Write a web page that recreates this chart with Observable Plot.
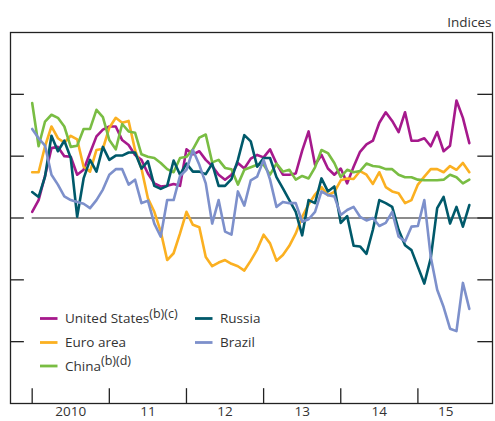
<!DOCTYPE html>
<html><head><meta charset="utf-8">
<script src="https://cdn.jsdelivr.net/npm/d3@7"></script>
<script src="https://cdn.jsdelivr.net/npm/@observablehq/plot@0.6"></script>
<style>body{margin:0;background:#fff}</style>
</head><body><div id="chart"></div>
<script>
// Monthly values, Jan 2010 onward
const startYear = 2010;
const unitedStates = [0.10,0.29,0.68,1.13,1.15,1.00,0.99,0.70,0.78,1.05,1.32,1.43,1.48,1.48,1.26,1.18,1.02,0.94,0.72,0.56,0.51,0.52,0.55,0.52,1.11,1.03,1.08,0.94,0.84,0.70,0.62,0.70,0.89,0.80,0.96,1.02,0.98,1.11,0.88,0.70,0.70,0.72,1.09,1.40,0.86,1.02,0.80,0.70,0.80,0.56,0.83,1.07,1.19,1.25,1.54,1.71,1.57,1.39,1.71,1.25,1.25,1.29,1.16,1.39,1.08,1.17,1.90,1.62,1.21];
const euroArea = [0.74,0.74,1.16,1.48,1.29,1.22,1.33,1.27,0.83,0.75,1.10,1.12,1.46,1.62,1.54,1.57,1.10,0.80,0.32,0.10,-0.22,-0.68,-0.57,-0.25,0.10,-0.11,-0.15,-0.63,-0.78,-0.72,-0.68,-0.74,-0.78,-0.85,-0.69,-0.51,-0.27,-0.41,-0.69,-0.60,-0.45,-0.25,0.02,0.22,0.38,0.50,0.37,0.42,0.61,0.64,0.63,0.76,0.70,0.55,0.74,0.50,0.43,0.40,0.24,0.29,0.54,0.67,0.79,0.79,0.74,0.84,0.78,0.89,0.74];
const china = [1.86,1.16,1.56,1.67,1.62,1.48,1.15,1.17,1.44,1.44,1.75,1.63,1.26,1.11,1.52,1.40,1.38,1.03,0.99,0.97,0.89,0.79,0.74,0.97,0.99,1.11,1.30,1.35,0.90,0.94,0.81,0.79,0.54,0.78,0.82,0.86,0.86,0.70,0.88,0.75,0.78,0.62,0.68,0.64,0.82,1.10,1.05,0.89,0.66,0.78,0.74,0.76,0.88,0.84,0.83,0.79,0.79,0.70,0.66,0.66,0.62,0.61,0.61,0.61,0.62,0.70,0.66,0.56,0.62];
const russia = [0.42,0.34,0.67,1.33,1.08,1.25,0.97,0.02,0.64,0.94,0.75,1.15,0.94,1.01,1.01,1.06,1.06,0.80,0.92,0.52,0.47,0.52,0.93,0.70,0.88,0.75,0.75,0.71,0.88,0.52,0.52,0.63,0.94,1.34,1.24,0.83,0.97,0.97,0.66,0.48,0.29,0.10,-0.28,0.29,0.24,0.64,0.43,0.51,-0.08,0.03,-0.45,-0.46,-0.58,-0.19,0.29,0.24,0.18,-0.19,-0.44,-0.52,-0.79,-1.06,-0.65,0.16,0.34,-0.09,0.18,-0.14,0.21];
const brazil = [1.44,1.29,1.17,0.70,0.54,0.35,0.29,0.26,0.23,0.16,0.29,0.46,0.70,0.79,0.79,0.54,0.62,0.24,0.28,-0.09,-0.30,0.29,0.29,0.68,0.78,1.10,0.86,0.56,-0.09,0.29,-0.22,-0.27,0.43,0.20,0.61,0.67,0.94,0.62,0.18,0.26,0.24,0.24,-0.06,-0.02,0.10,0.43,0.37,0.35,0.05,0.13,0.18,0.02,-0.04,0.00,-0.13,-0.08,0.10,-0.30,-0.38,-0.14,-0.13,0.29,-0.63,-1.16,-1.44,-1.79,-1.83,-1.05,-1.47];

const seriesNames = ["United States","Euro area","China","Russia","Brazil"];
const seriesNotes = ["(b)(c)","","(b)(d)","",""];
const seriesColors = ["#a6198c","#fbb021","#79bd43","#00596a","#7d90cb"];
const seriesValues = [unitedStates, euroArea, china, russia, brazil];

const yearTicks = [2010, 2011, 2012, 2013, 2014, 2015];
const yearLabels = ["2010", "11", "12", "13", "14", "15"];
const yearLabelPos = [2010.5, 2011.5, 2012.5, 2013.5, 2014.5, 2015.36];
const yTicks = [-2, -1, 0, 1, 2];
const unitLabel = "Indices";

const data = [];
seriesValues.forEach((vals, s) => vals.forEach((v, i) => data.push({series: seriesNames[s], x: startYear + i / 12, y: v})));

const xDomain = [2009.719, 2015.967];
const yDomain = [-3, 3];
const ink = "#222";
const font = "'Open Sans', 'Noto Sans', sans-serif";

const chart = Plot.plot({
  width: 495, height: 421,
  marginLeft: 10, marginRight: 3, marginTop: 32, marginBottom: 18,
  style: {fontFamily: font, fontSize: "13px", color: "#333", background: "#fff", overflow: "visible"},
  x: {domain: xDomain, axis: null},
  y: {domain: yDomain, axis: null},
  color: {domain: seriesNames, range: seriesColors},
  marks: [
    Plot.ruleY([0], {x1: startYear, x2: xDomain[1], stroke: "#666", strokeWidth: 1.6}),
    Plot.line(data, {x: "x", y: "y", z: "series", stroke: "series", strokeWidth: 2.6}),
    Plot.frame({stroke: ink, strokeWidth: 1.3}),
    Plot.ruleY(yTicks, {x1: xDomain[0], x2: xDomain[0] + 0.18, stroke: ink, strokeWidth: 1.3}),
    Plot.ruleY(yTicks, {x1: xDomain[1] - 0.19, x2: xDomain[1], stroke: ink, strokeWidth: 1.3}),
    Plot.ruleX(yearTicks, {x: d => d, y1: yDomain[0], y2: yDomain[0] + 0.24, stroke: ink, strokeWidth: 1.3}),
    Plot.text(yearLabels, {x: (d, i) => yearLabelPos[i], text: d => d, frameAnchor: "bottom", dy: 12, fill: "#333", fontSize: 13.5}),
    Plot.text([unitLabel], {text: d => d, frameAnchor: "top-right", textAnchor: "end", dx: -1, dy: -15, fill: "#333", fontSize: 13.5})
  ]
});
document.getElementById("chart").appendChild(chart);

// Legend inside the frame (lower left)
const svg = d3.select(chart.tagName.toLowerCase() === "svg" ? chart : chart.querySelector("svg"));
const legendCols = [[0, 1, 2], [3, 4]];
const colX = [40, 195];
const rowY = [318.5, 342.5, 366];
const lg = svg.append("g").attr("font-family", font).attr("font-size", 13.5).attr("fill", "#333").attr("text-anchor", "start");
legendCols.forEach((col, c) => col.forEach((s, r) => {
  lg.append("line").attr("x1", colX[c]).attr("x2", colX[c] + 17.5).attr("y1", rowY[r]).attr("y2", rowY[r])
    .attr("stroke", seriesColors[s]).attr("stroke-width", 2.8);
  const t = lg.append("text").attr("x", colX[c] + 25).attr("y", rowY[r]).attr("dy", "0.35em").attr("text-anchor", "start").text(seriesNames[s]);
  if (seriesNotes[s]) t.append("tspan").attr("dy", "-0.45em").attr("font-size", 12.5).text(seriesNotes[s]);
}));
</script>
</body></html>
